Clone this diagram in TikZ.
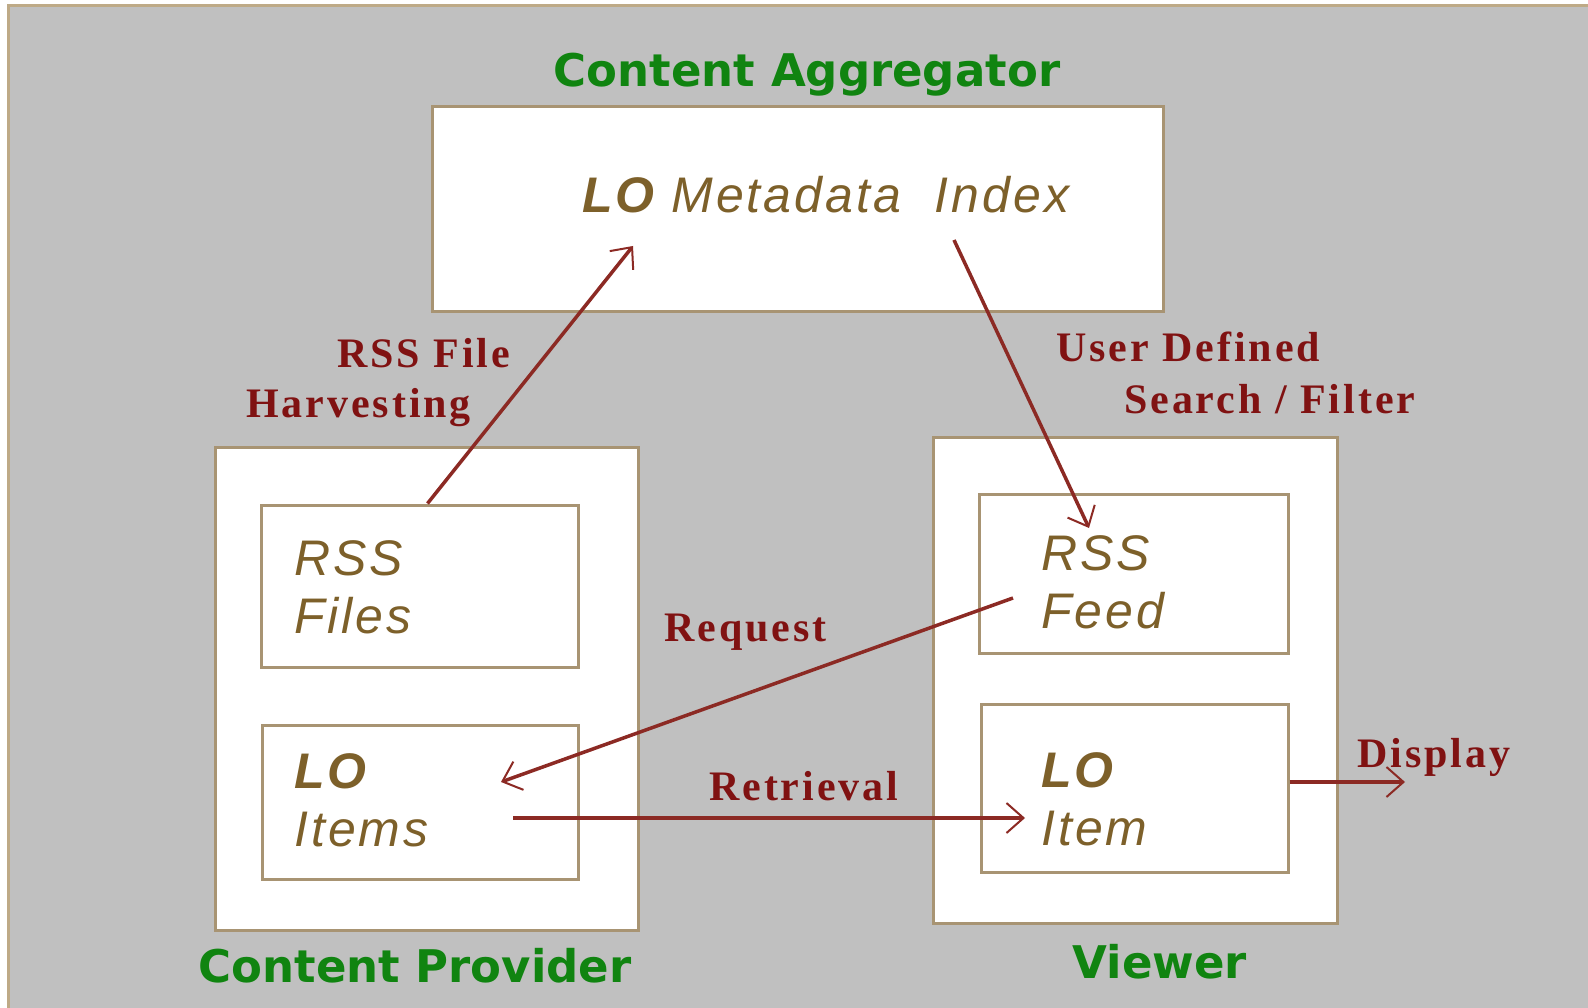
\documentclass[tikz,border=0pt]{standalone}
\usepackage{fontspec}
\setmainfont[LetterSpace=7]{Liberation Serif}
\newfontfamily\boxfont[LetterSpace=6]{Liberation Sans}
\newfontfamily\headfont{DejaVu Sans}
\usetikzlibrary{arrows.meta}
\definecolor{bggray}{RGB}{192,192,192}
\definecolor{frametan}{RGB}{190,170,135}
\definecolor{boxtan}{RGB}{168,148,115}
\definecolor{headgreen}{RGB}{16,132,16}
\definecolor{txtbrown}{RGB}{125,96,42}
\definecolor{lblred}{RGB}{128,18,18}
\definecolor{arrowred}{RGB}{140,42,36}

\begin{document}
\begin{tikzpicture}[x=1pt, y=-1pt,
    box/.style={draw=boxtan, line width=3pt, fill=white, inner sep=0pt},
    head/.style={text=headgreen, font=\headfont\bfseries\fontsize{45}{50}\selectfont, anchor=base, inner sep=0pt},
    boxtext/.style={text=txtbrown, font=\boxfont\itshape\fontsize{50}{58}\selectfont, align=left, anchor=west, inner sep=0pt},
    lbl/.style={text=lblred, font=\bfseries\fontsize{42}{50}\selectfont, anchor=base west, inner sep=0pt},
    flow/.style={draw=arrowred, line width=3.5pt, -{Straight Barb[length=17pt, width=30pt, line width=2pt]}}]
    \useasboundingbox (0,0) rectangle (1588,1008);
    % background and frame
    \fill[bggray] (8,6) rectangle (1588,1008);
    \draw[frametan, line width=3pt] (8,1008) -- (8,6) -- (1588,6);

    % boxes
    \node[box, minimum width=731, minimum height=205] (agg) at (797.5,209.5) {};
    \node[box, minimum width=423, minimum height=483] (prov) at (426.5,688.5) {};
    \node[box, minimum width=317, minimum height=162] (files) at (419.5,586) {};
    \node[box, minimum width=316, minimum height=154] (items) at (420,802) {};
    \node[box, minimum width=404, minimum height=486] (viewer) at (1135,680) {};
    \node[box, minimum width=309, minimum height=159] (feed) at (1133.5,573.5) {};
    \node[box, minimum width=307, minimum height=168] (item) at (1134.5,788) {};

    % titles
    \node[head] (aggname) at (807,87) {Content Aggregator};
    \node[head] (provname) at (415,982) {Content Provider};
    \node[head] (viewname) at (1160,978) {Viewer};

    % box texts
    \node[boxtext] (idxtxt) at (582,195) {\textbf{LO} Metadata\ \ Index};
    \node[boxtext] (filestxt) at (294,587) {RSS\\Files};
    \node[boxtext] (itemstxt) at (294,800) {\textbf{LO}\\Items};
    \node[boxtext] (feedtxt) at (1041,582) {RSS\\Feed};
    \node[boxtext] (itemtxt) at (1041,799) {\textbf{LO}\\Item};

    % connector ends
    \coordinate (harvin) at (633,246);
    \coordinate (srchout) at (954,240);
    \coordinate (feedin) at (1089,528);
    \coordinate (reqout) at (1013,598);
    \coordinate (reqin) at (501,782);
    \coordinate (retout) at (513,818);
    \coordinate (retin) at (1025,818);
    \coordinate (dispend) at (1405,782);

    % flows
    \draw[flow] ([xshift=8pt]files.north) -- (harvin);
    \draw[flow] (srchout) -- (feedin);
    \draw[flow] (reqout) -- (reqin);
    \draw[flow] (retout) -- (retin);
    \draw[flow] ([yshift=6pt]item.east) -- (dispend);

    % labels
    \node[lbl] (harvlbl1) at (337,367) {RSS File};
    \node[lbl] (harvlbl2) at (246,417) {Harvesting};
    \node[lbl] (srchlbl1) at (1056,362) {User Defined};
    \node[lbl] (srchlbl2) at (1124,413) {Search / Filter};
    \node[lbl] (reqlbl) at (664,641) {Request};
    \node[lbl] (retlbl) at (709,800) {Retrieval};
    \node[lbl] (displbl) at (1357,767) {Display};
\end{tikzpicture}
\end{document}
